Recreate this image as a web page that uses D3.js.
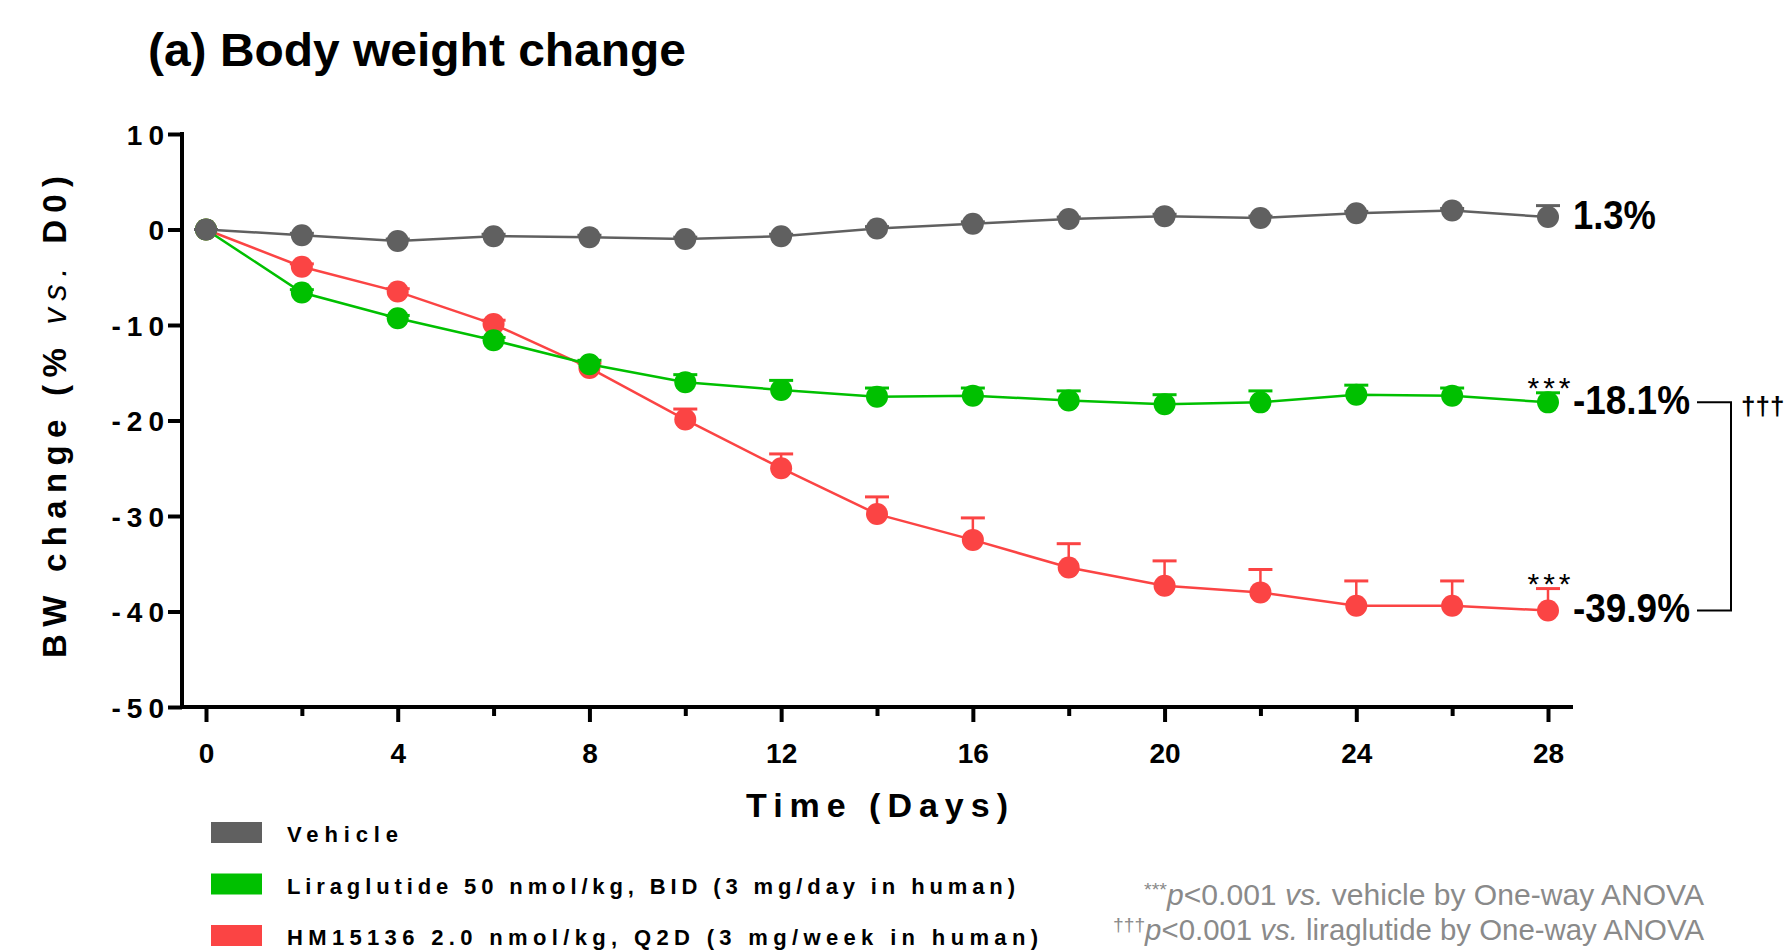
<!DOCTYPE html>
<html lang="en">
<head>
  <meta charset="UTF-8">
  <title>Body weight change</title>
  <script src="https://d3js.org/d3.v7.min.js"></script>
  <style>
      body {
          margin: 0;
          padding: 0;
          overflow: hidden;
          background: #fff;
      }
      svg {
          display: block;
      }
      .narrow {
          font-family: "Liberation Sans Narrow", "Arial Narrow", "Liberation Sans", Arial, sans-serif;
      }
      .wide {
          font-family: "Liberation Sans", Arial, sans-serif;
      }
  </style>
</head>
<body>
  <svg width="1785" height="951"></svg>
  <script>
      // Data (% change vs. D0)
      const days = [0, 2, 4, 6, 8, 10, 12, 14, 16, 18, 20, 22, 24, 26, 28];
      const vehicle = [0, -0.6, -1.2, -0.7, -0.8, -1.0, -0.7, 0.1, 0.6, 1.1, 1.4, 1.2, 1.7, 2.0, 1.3];
      const vehicleErr = [0, 0.2, 0.2, 0.2, 0.2, 0.2, 0.2, 0.2, 0.2, 0.2, 0.2, 0.2, 0.2, 0.2, 1.2];
      const lira = [0, -6.6, -9.3, -11.6, -14.1, -16.0, -16.8, -17.5, -17.4, -17.9, -18.3, -18.1, -17.3, -17.4, -18.1];
      const liraErr = [0, 0.3, 0.3, 0.3, 0.4, 0.8, 1.0, 0.9, 0.8, 1.0, 1.0, 1.2, 1.0, 0.8, 1.0];
      const hm = [0, -3.9, -6.5, -9.9, -14.5, -19.9, -25.0, -29.8, -32.5, -35.4, -37.3, -38.0, -39.4, -39.4, -39.9];
      const hmErr = [0, 0.3, 0.3, 0.4, 0.5, 1.1, 1.5, 1.8, 2.3, 2.5, 2.6, 2.4, 2.6, 2.6, 2.3];

      const seriesNames = ["Vehicle", "Liraglutide 50 nmol/kg, BID (3 mg/day in human)", "HM15136 2.0 nmol/kg, Q2D (3 mg/week in human)"];
      const endLabels = ["1.3%", "-18.1%", "-39.9%"];
      const colors = ["#606060", "#00c000", "#fb4444"];

      const yTicks = [10, 0, -10, -20, -30, -40, -50];
      const xMajor = [0, 4, 8, 12, 16, 20, 24, 28];
      const xMinor = [2, 6, 10, 14, 18, 22, 26];

      const svg = d3.select("svg");

      const x = d3.scaleLinear().domain([0, 28]).range([206, 1548]);
      const y = d3.scaleLinear().domain([-50, 10]).range([707, 134]);
      const axisX = 182;

      // Title
      svg.append("text")
          .attr("class", "narrow")
          .attr("x", 148)
          .attr("y", 66)
          .attr("font-size", 46)
          .attr("font-weight", "bold")
          .attr("textLength", 538)
          .attr("lengthAdjust", "spacingAndGlyphs")
          .text("(a) Body weight change");

      // Y axis
      const yAxis = svg.append("g")
          .attr("transform", `translate(${axisX},0)`)
          .call(d3.axisLeft(y).tickValues(yTicks).tickSize(14).tickSizeOuter(0).tickFormat(d => String(d)));
      yAxis.select(".domain").remove();
      yAxis.selectAll(".tick line").attr("stroke", "#000").attr("stroke-width", 4);
      yAxis.selectAll(".tick text")
          .attr("class", "wide")
          .attr("font-size", 28)
          .attr("font-weight", "bold")
          .attr("letter-spacing", 6)
          .attr("x", -12)
          .attr("dy", "0.36em")
          .attr("fill", "#000");

      // X axis
      const xAxisMajor = svg.append("g")
          .attr("transform", `translate(0,${y(-50)})`)
          .call(d3.axisBottom(x).tickValues(xMajor).tickSize(15).tickSizeOuter(0));
      xAxisMajor.select(".domain").remove();
      xAxisMajor.selectAll(".tick line").attr("stroke", "#000").attr("stroke-width", 4);
      xAxisMajor.selectAll(".tick text")
          .attr("class", "narrow")
          .attr("font-size", 28)
          .attr("font-weight", "bold")
          .attr("y", 36)
          .attr("fill", "#000");

      const xAxisMinor = svg.append("g")
          .attr("transform", `translate(0,${y(-50)})`)
          .call(d3.axisBottom(x).tickValues(xMinor).tickSize(9).tickFormat(""));
      xAxisMinor.select(".domain").remove();
      xAxisMinor.selectAll(".tick line").attr("stroke", "#000").attr("stroke-width", 4);

      // axis lines
      svg.append("line")
          .attr("x1", axisX).attr("x2", axisX)
          .attr("y1", y(10) - 2).attr("y2", y(-50) + 2)
          .attr("stroke", "#000").attr("stroke-width", 4);
      svg.append("line")
          .attr("x1", axisX - 2).attr("x2", x(28) + 25)
          .attr("y1", y(-50)).attr("y2", y(-50))
          .attr("stroke", "#000").attr("stroke-width", 4);

      // Axis titles
      svg.append("text")
          .attr("class", "wide")
          .attr("x", 877)
          .attr("y", 817)
          .attr("text-anchor", "middle")
          .attr("font-size", 34)
          .attr("font-weight", "bold")
          .attr("textLength", 262)
          .attr("lengthAdjust", "spacing")
          .text("Time (Days)");

      const yLab = svg.append("text")
          .attr("class", "wide")
          .attr("transform", "translate(66,417) rotate(-90)")
          .attr("text-anchor", "middle")
          .attr("font-size", 33)
          .attr("font-weight", "bold")
          .attr("textLength", 482)
          .attr("lengthAdjust", "spacing");
      yLab.append("tspan").text("BW change (% ");
      yLab.append("tspan").attr("font-style", "italic").attr("font-weight", "normal").text("vs.");
      yLab.append("tspan").text(" D0)");

      // Series: red, green, gray (gray on top)
      const series = [
          { name: seriesNames[0], values: vehicle, err: vehicleErr, color: colors[0], label: endLabels[0] },
          { name: seriesNames[1], values: lira, err: liraErr, color: colors[1], label: endLabels[1] },
          { name: seriesNames[2], values: hm, err: hmErr, color: colors[2], label: endLabels[2] }
      ];

      const line = d3.line()
          .x((d, i) => x(days[i]))
          .y(d => y(d));

      const drawOrder = [2, 1, 0];
      drawOrder.forEach(k => {
          const s = series[k];
          const g = svg.append("g");

          // error bars (upper only)
          const eb = g.selectAll(".err")
              .data(s.values.map((v, i) => ({ day: days[i], v: v, e: s.err[i] })))
              .enter().append("g");
          eb.append("line")
              .attr("x1", d => x(d.day)).attr("x2", d => x(d.day))
              .attr("y1", d => y(d.v)).attr("y2", d => y(d.v + d.e))
              .attr("stroke", s.color).attr("stroke-width", 2.5);
          eb.append("line")
              .attr("x1", d => x(d.day) - 12).attr("x2", d => x(d.day) + 12)
              .attr("y1", d => y(d.v + d.e)).attr("y2", d => y(d.v + d.e))
              .attr("stroke", s.color).attr("stroke-width", 3);

          g.append("path")
              .datum(s.values)
              .attr("d", line)
              .attr("fill", "none")
              .attr("stroke", s.color)
              .attr("stroke-width", 2.5);

          g.selectAll("circle")
              .data(s.values)
              .enter().append("circle")
              .attr("cx", (d, i) => x(days[i]))
              .attr("cy", d => y(d))
              .attr("r", 11)
              .attr("fill", s.color);
      });

      // End labels
      const labelWidths = [83, 117, 117];
      series.forEach((s, i) => {
          const last = s.values[s.values.length - 1];
          svg.append("text")
              .attr("class", "narrow")
              .attr("x", x(28) + 25)
              .attr("y", y(last))
              .attr("dy", "0.28em")
              .attr("font-size", 41)
              .attr("font-weight", "bold")
              .attr("textLength", labelWidths[i])
              .attr("lengthAdjust", "spacingAndGlyphs")
              .text(s.label);
      });

      // Significance stars above last points of treated groups
      [series[1], series[2]].forEach(s => {
          const n = s.values.length - 1;
          svg.append("text")
              .attr("class", "wide")
              .attr("x", x(28) + 3)
              .attr("y", y(s.values[n] + s.err[n]) + 5)
              .attr("text-anchor", "middle")
              .attr("font-size", 30)
              .attr("letter-spacing", 4)
              .text("***");
      });

      // Bracket between liraglutide and HM15136
      const yTop = y(lira[lira.length - 1]);
      const yBot = y(hm[hm.length - 1]);
      svg.append("path")
          .attr("d", `M1697,${yTop} H1731 V${yBot} H1697`)
          .attr("fill", "none")
          .attr("stroke", "#000")
          .attr("stroke-width", 2);
      svg.append("text")
          .attr("class", "narrow")
          .attr("x", 1741)
          .attr("y", (yTop + 13))
          .attr("font-size", 26)
          .attr("font-weight", "bold")
          .text("†††");

      // Legend
      const legendWidths = [111, 728, 751];
      series.forEach((s, i) => {
          const ly = 842 + i * 51.5;
          svg.append("rect")
              .attr("x", 211)
              .attr("y", ly - 20)
              .attr("width", 51)
              .attr("height", 21)
              .attr("fill", s.color);
          svg.append("text")
              .attr("class", "narrow")
              .attr("x", 287)
              .attr("y", ly)
              .attr("font-size", 22)
              .attr("font-weight", "bold")
              .attr("textLength", legendWidths[i])
              .attr("lengthAdjust", "spacing")
              .text(s.name);
      });

      // Footnote
      const foot = svg.append("g")
          .attr("class", "narrow")
          .attr("fill", "#8a8a8a")
          .attr("font-size", 29)
          .attr("text-anchor", "end");
      const f1 = foot.append("text").attr("x", 1704).attr("y", 905)
          .attr("textLength", 560).attr("lengthAdjust", "spacingAndGlyphs");
      f1.append("tspan").attr("font-size", 19).attr("dy", -9).text("***");
      f1.append("tspan").attr("font-style", "italic").attr("dy", 9).text("p");
      f1.append("tspan").text("<0.001 ");
      f1.append("tspan").attr("font-style", "italic").text("vs.");
      f1.append("tspan").text(" vehicle by One-way ANOVA");

      const f2 = foot.append("text").attr("x", 1704).attr("y", 940)
          .attr("textLength", 591).attr("lengthAdjust", "spacingAndGlyphs");
      f2.append("tspan").attr("font-size", 19).attr("dy", -9).text("†††");
      f2.append("tspan").attr("font-style", "italic").attr("dy", 9).text("p");
      f2.append("tspan").text("<0.001 ");
      f2.append("tspan").attr("font-style", "italic").text("vs.");
      f2.append("tspan").text(" liraglutide by One-way ANOVA");
  </script>
</body>
</html>
